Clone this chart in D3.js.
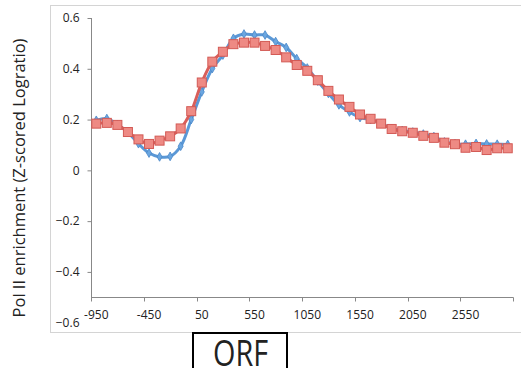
<!DOCTYPE html>
<html>
<head>
<meta charset="UTF-8">
<script src="https://d3js.org/d3.v7.min.js"></script>
<style>
  body { margin: 0; background: #fff; }
  text { font-family: "Open Sans", sans-serif; fill: #222; }
</style>
</head>
<body>
<svg width="521" height="368"></svg>
<script>
// categories: -950 .. 2950 step 100
const positions = [-950,-850,-750,-650,-550,-450,-350,-250,-150,-50,
  50,150,250,350,450,550,650,750,850,950,
  1050,1150,1250,1350,1450,1550,1650,1750,1850,1950,
  2050,2150,2250,2350,2450,2550,2650,2750,2850,2950];
const blueValues = [0.197,0.204,0.18,0.15,0.105,0.068,0.053,0.055,0.095,0.2,
  0.309,0.401,0.454,0.52,0.537,0.533,0.533,0.507,0.484,0.44,
  0.403,0.351,0.303,0.258,0.23,0.208,0.2,0.185,0.165,0.157,
  0.151,0.143,0.133,0.112,0.105,0.103,0.106,0.104,0.103,0.102];
const redValues = [0.184,0.187,0.179,0.151,0.122,0.104,0.117,0.134,0.165,0.233,
  0.346,0.428,0.467,0.497,0.503,0.503,0.49,0.474,0.445,0.415,
  0.392,0.355,0.313,0.279,0.25,0.22,0.203,0.184,0.163,0.154,
  0.148,0.136,0.128,0.109,0.103,0.089,0.092,0.08,0.087,0.087];
const xLabels = [-950,-450,50,550,1050,1550,2050,2550];
const yTicks = [0.6,0.4,0.2,0,-0.2,-0.4,-0.6];

const svg = d3.select("svg");

// outer chart frame
svg.append("rect")
  .attr("x", 50.5).attr("y", 5.5)
  .attr("width", 490).attr("height", 327)
  .attr("fill", "none").attr("stroke", "#d4d4d4");

const x = d3.scaleBand().domain(positions).range([91, 513]);
const y = d3.scaleLinear().domain([-0.6, 0.6]).range([322.7, 18]);
const cx = d => x(d) + x.bandwidth() / 2;

// y axis
const yAxis = svg.append("g")
  .attr("transform", "translate(91.5,0)")
  .call(d3.axisLeft(y).tickValues(yTicks).tickSize(4).tickPadding(8)
    .tickFormat(d => d === 0 ? "0" : d3.format(".1f")(d)));
yAxis.select(".domain").remove();
yAxis.selectAll(".tick line").attr("stroke", "#888")
  .filter(d => d < -0.5).remove();
yAxis.selectAll(".tick text").style("font-size", "12px").attr("fill", "#222");
svg.append("line")
  .attr("x1", 91.5).attr("x2", 91.5)
  .attr("y1", y(0.6)).attr("y2", y(-0.5))
  .attr("stroke", "#888");

// x axis at -0.5
const xAxisY = Math.round(y(-0.5)) + 0.5;
svg.append("line")
  .attr("x1", 91).attr("x2", 513.5)
  .attr("y1", xAxisY).attr("y2", xAxisY)
  .attr("stroke", "#888");
svg.append("g").selectAll("line")
  .data(d3.range(0, positions.length + 1, 5))
  .join("line")
  .attr("x1", i => Math.round(91 + i * x.step()) + 0.5)
  .attr("x2", i => Math.round(91 + i * x.step()) + 0.5)
  .attr("y1", xAxisY).attr("y2", xAxisY + 4)
  .attr("stroke", "#888");
svg.append("g").selectAll("text")
  .data(xLabels)
  .join("text")
  .attr("x", d => cx(d))
  .attr("y", 319)
  .attr("text-anchor", "middle")
  .style("font-size", "12px")
  .text(d => d);

// y title
svg.append("text")
  .attr("transform", "translate(25,178) rotate(-90)")
  .attr("text-anchor", "middle")
  .style("font-size", "16.5px")
  .text("Pol II enrichment (Z-scored Logratio)");

// series
const line = d3.line().x(d => cx(d[0])).y(d => y(d[1])).curve(d3.curveCatmullRom.alpha(0.5));
const blue = positions.map((p, i) => [p, blueValues[i]]);
const red = positions.map((p, i) => [p, redValues[i]]);

svg.append("path").datum(blue)
  .attr("d", line).attr("fill", "none")
  .attr("stroke", "#5b98d6").attr("stroke-width", 3);
svg.append("g").selectAll("path")
  .data(blue).join("path")
  .attr("transform", d => `translate(${cx(d[0])},${y(d[1])})`)
  .attr("d", d3.symbol(d3.symbolDiamond, 22)())
  .attr("fill", "#6aa6e0").attr("stroke", "#4a88c9").attr("stroke-width", 0.8);

svg.append("path").datum(red)
  .attr("d", line).attr("fill", "none")
  .attr("stroke", "#d95e5a").attr("stroke-width", 3);
svg.append("g").selectAll("rect")
  .data(red).join("rect")
  .attr("x", d => cx(d[0]) - 4.5).attr("y", d => y(d[1]) - 4.5)
  .attr("width", 9).attr("height", 9)
  .attr("fill", "#ee8a84").attr("stroke", "#d35a55").attr("stroke-width", 1);

// ORF box (cut by the bottom edge, as in the original)
svg.append("rect")
  .attr("x", 193).attr("y", 333)
  .attr("width", 94).attr("height", 50)
  .attr("fill", "#fff").attr("stroke", "#000").attr("stroke-width", 2);
svg.append("text")
  .attr("transform", "translate(240.5,366) scale(0.8,1)")
  .attr("text-anchor", "middle")
  .style("font-size", "36px")
  .attr("fill", "#000")
  .text("ORF");
</script>
</body>
</html>
